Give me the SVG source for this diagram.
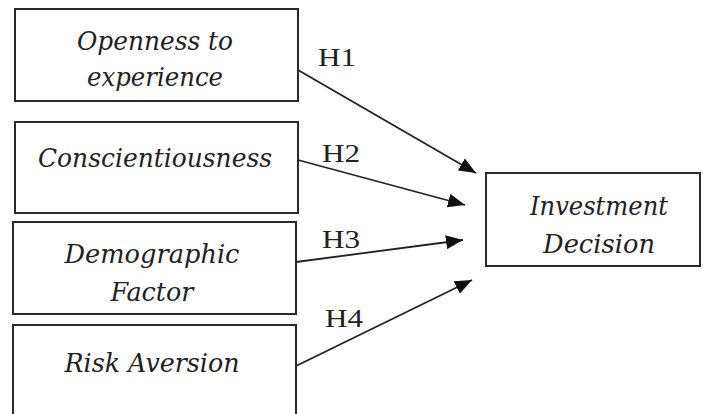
<svg xmlns="http://www.w3.org/2000/svg" width="703" height="414" viewBox="0 0 703 414">
<style>
.box{fill:#fff;stroke:#2a2a2a;stroke-width:2}
.lbl{font-family:"DejaVu Serif","Liberation Serif",serif;font-style:italic;font-size:26px;fill:#222;text-anchor:middle}
.h{font-family:"Liberation Serif","Times New Roman",serif;font-size:25px;fill:#222}
.con{stroke:#222;stroke-width:1.8;fill:none;marker-end:url(#arr)}
</style>
<defs>
<marker id="arr" markerUnits="userSpaceOnUse" markerWidth="18" markerHeight="14" refX="17" refY="7" orient="auto">
<path d="M0,0 L17,7 L0,14 Z" fill="#111"/>
</marker>
</defs>
<rect width="703" height="414" fill="#fff"/>
<g id="openness">
<rect class="box" x="15" y="9" width="283" height="92"/>
<text class="lbl" x="155" y="50" textLength="156" lengthAdjust="spacingAndGlyphs">Openness to</text>
<text class="lbl" x="155" y="86" textLength="136" lengthAdjust="spacingAndGlyphs">experience</text>
</g>
<g id="conscientiousness">
<rect class="box" x="15" y="122" width="283" height="91"/>
<text class="lbl" x="155" y="167" textLength="234" lengthAdjust="spacingAndGlyphs">Conscientiousness</text>
</g>
<g id="demographic">
<rect class="box" x="13" y="222" width="283" height="92"/>
<text class="lbl" x="152" y="263" textLength="175" lengthAdjust="spacingAndGlyphs">Demographic</text>
<text class="lbl" x="152" y="301" textLength="83" lengthAdjust="spacingAndGlyphs">Factor</text>
</g>
<g id="risk">
<rect class="box" x="13" y="325" width="283" height="100"/>
<text class="lbl" x="152" y="372" textLength="175" lengthAdjust="spacingAndGlyphs">Risk Aversion</text>
</g>
<g id="investment">
<rect class="box" x="486" y="173" width="214" height="93"/>
<text class="lbl" x="599" y="215" textLength="138" lengthAdjust="spacingAndGlyphs">Investment</text>
<text class="lbl" x="599" y="253" textLength="112" lengthAdjust="spacingAndGlyphs">Decision</text>
</g>
<g id="connectors">
<line class="con" x1="298" y1="70" x2="476" y2="173"/>
<line class="con" x1="298" y1="160" x2="465" y2="205"/>
<line class="con" x1="296" y1="262" x2="463" y2="240"/>
<line class="con" x1="296" y1="366" x2="472" y2="280"/>
<text class="h" x="318" y="66" textLength="38" lengthAdjust="spacingAndGlyphs">H1</text>
<text class="h" x="322" y="162" textLength="38" lengthAdjust="spacingAndGlyphs">H2</text>
<text class="h" x="322" y="248" textLength="38" lengthAdjust="spacingAndGlyphs">H3</text>
<text class="h" x="325" y="327" textLength="38" lengthAdjust="spacingAndGlyphs">H4</text>
</g>
</svg>
